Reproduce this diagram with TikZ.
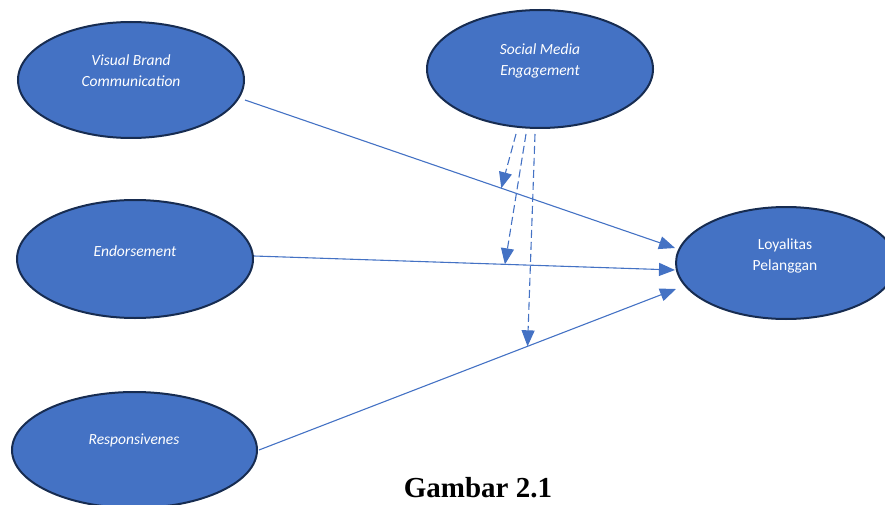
\documentclass[tikz,border=0pt]{standalone}
\usepackage{fontspec}
\setmainfont{Carlito}
\newfontfamily\capfont{Liberation Serif}
\usetikzlibrary{shapes.geometric,arrows.meta,calc}
\definecolor{fillblue}{HTML}{4472C4}
\definecolor{edgenavy}{HTML}{172C51}
\definecolor{lineblue}{HTML}{4472C4}
\tikzset{
  blob/.style={ellipse, draw=edgenavy, line width=2pt, fill=fillblue, inner sep=0pt},
  blobtext/.style={text=white, font=\fontsize{15.5}{21}\selectfont, align=center, inner sep=0pt},
  link/.style={draw=lineblue, line width=1.1pt, -{Triangle[length=16pt,width=13pt]}},
  dlink/.style={link, dash pattern=on 8pt off 4pt}
}
\begin{document}
\begin{tikzpicture}[x=1pt,y=-1pt]
\useasboundingbox (0,0) rectangle (885,505);
% ellipses
\node[blob, minimum width=226pt, minimum height=116pt] (vbc) at (131,80) {};
\node[blob, minimum width=226pt, minimum height=118pt] (sme) at (540,69) {};
\node[blob, minimum width=236pt, minimum height=118pt] (end) at (135,259) {};
\node[blob, minimum width=245pt, minimum height=116pt] (resp) at (134.5,450) {};
\node[blob, minimum width=220pt, minimum height=112pt] (loy) at (786,263) {};
% texts
\node[blobtext] (tvbc) at (131,70.5) {\itshape Visual Brand\\\itshape Communication};
\node[blobtext] (tsme) at (540,60.5) {\itshape Social Media\\\itshape Engagement};
\node[blobtext] (tend) at (135,251) {\itshape Endorsement};
\node[blobtext] (tresp) at (134,440) {\itshape Responsivenes};
\node[blobtext] (tloy) at (785,256) {Loyalitas\\Pelanggan};
% start/end points
\coordinate (s1) at ([yshift=-20pt]vbc.east);
\coordinate (s2) at ([yshift=3pt]end.east);
\coordinate (s3) at ([xshift=1pt]resp.east);
\coordinate (e1) at ([yshift=15pt]loy.west);
\coordinate (e2) at ([yshift=-7pt]loy.west);
\coordinate (e3) at ([xshift=1pt,yshift=-26pt]loy.west);
\path (s1) -- coordinate[pos=0.596] (m1) (e1);
\path (s2) -- coordinate[pos=0.596] (m2) (e2);
\path (s3) -- coordinate[pos=0.644] (m3) (e3);
\coordinate (d1) at ([xshift=-24pt,yshift=-5pt]sme.south);
\coordinate (d2) at ([xshift=-14pt,yshift=-5pt]sme.south);
\coordinate (d3) at ([xshift=-5pt,yshift=-5pt]sme.south);
% connectors
\draw[link] (s1) -- (e1);
\draw[link] (s2) -- (e2);
\draw[link] (s3) -- (e3);
\draw[dlink] (d1) -- (m1);
\draw[dlink] (d2) -- (m2);
\draw[dlink] (d3) -- (m3);
% caption
\node[anchor=base, inner sep=0pt, text depth=0pt, font=\capfont\bfseries\fontsize{29}{33}\selectfont] (cap) at (478,497) {Gambar 2.1};
\end{tikzpicture}
\end{document}
